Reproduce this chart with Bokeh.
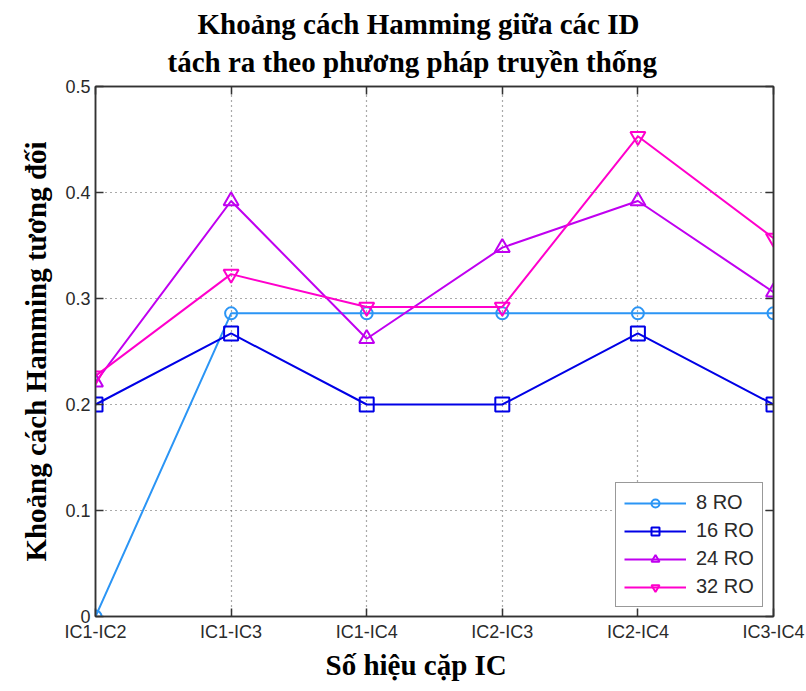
from bokeh.plotting import figure
from bokeh.models import Range1d, FixedTicker, LinearAxis, Title, Legend, LegendItem
from bokeh.embed import file_html
from bokeh.resources import INLINE

# ---- data ----
pairs = ["IC1-IC2", "IC1-IC3", "IC1-IC4", "IC2-IC3", "IC2-IC4", "IC3-IC4"]
ro8 = [0.0, 0.286, 0.286, 0.286, 0.286, 0.286]
ro16 = [0.200, 0.267, 0.200, 0.200, 0.267, 0.200]
ro24 = [0.221, 0.392, 0.262, 0.348, 0.392, 0.306]
ro32 = [0.227, 0.323, 0.292, 0.292, 0.453, 0.357]
series_names = ["8 RO", "16 RO", "24 RO", "32 RO"]
y_ticks = [0, 0.1, 0.2, 0.3, 0.4, 0.5]
y_tick_labels = ["0", "0.1", "0.2", "0.3", "0.4", "0.5"]

title1 = "Khoảng cách Hamming giữa các ID"
title2 = "tách ra theo phương pháp truyền thống"
x_label = "Số hiệu cặp IC"
y_label = "Khoảng cách Hamming tương đối"

xs = list(range(len(pairs)))

AX = "#333333"
SERIF = "Liberation Serif"
SANS = "Liberation Sans"

p = figure(width=806, height=691, output_backend="svg", toolbar_location=None,
           x_range=Range1d(xs[0], xs[-1]), y_range=Range1d(y_ticks[0], y_ticks[-1]),
           min_border_left=95, min_border_right=33, min_border_top=86, min_border_bottom=75,
           background_fill_color="white", border_fill_color="white")
p.title.visible = False

# axes
p.xaxis.ticker = FixedTicker(ticks=xs)
p.xaxis.major_label_overrides = {i: lab for i, lab in zip(xs, pairs)}
p.yaxis.ticker = FixedTicker(ticks=y_ticks)
p.yaxis.major_label_overrides = {t: lab for t, lab in zip(y_ticks, y_tick_labels)}

for ax in (p.xaxis[0], p.yaxis[0]):
    ax.axis_line_color = AX
    ax.axis_line_width = 1.5
    ax.major_tick_line_color = AX
    ax.major_tick_line_width = 1.5
    ax.major_tick_in = 8
    ax.major_tick_out = 0
    ax.minor_tick_line_color = None
    ax.major_label_text_font = SANS
    ax.major_label_text_font_size = "18px"
    ax.major_label_text_color = "#2a2a2a"
    ax.major_label_standoff = 5
    ax.axis_label_text_font = SERIF
    ax.axis_label_text_font_size = "29px"
    ax.axis_label_text_font_style = "bold"
    ax.axis_label_text_color = "black"

p.yaxis.axis_label = y_label
p.yaxis.axis_label_standoff = 10

# mirrored ticks on top and right (labels not drawn)
for side, ticks in (("above", xs), ("right", y_ticks)):
    a = LinearAxis(ticker=FixedTicker(ticks=ticks), major_label_text_color=None,
                   major_label_text_font_size="12px",
                   major_tick_in=8, major_tick_out=0, axis_line_color=AX, axis_line_width=1.5,
                   major_tick_line_color=AX, major_tick_line_width=1.5,
                   minor_tick_line_color=None, major_label_standoff=0)
    p.add_layout(a, side)

# grid
p.grid.grid_line_color = "#555555"
p.grid.grid_line_dash = "1 4"
p.grid.grid_line_width = 1.2
p.xgrid.ticker = FixedTicker(ticks=xs)
p.ygrid.ticker = FixedTicker(ticks=y_ticks)
p.outline_line_color = AX
p.outline_line_width = 1.5

# titles (second line added first: closer to the frame) and x-axis label
tcommon = dict(align="left", text_font=SERIF, text_font_size="29px",
               text_font_style="bold", text_color="black")
p.add_layout(Title(text=title2, offset=72, standoff=13, vertical_align="top", **tcommon), "above")
p.add_layout(Title(text=title1, offset=102, standoff=0, **tcommon), "above")
p.add_layout(Title(text=x_label, offset=230, standoff=4, **tcommon), "below")

# series
colors = ["#2b95f5", "#0000e6", "#c000f0", "#ff00cc"]
markers = ["circle", "square", "triangle", "inverted_triangle"]
sizes = [12, 14, 15, 15]
data = [ro8, ro16, ro24, ro32]
items = []
for name, ys, c, m, s in zip(series_names, data, colors, markers, sizes):
    ln = p.line(xs, ys, line_color=c, line_width=2)
    sc = p.scatter(xs, ys, marker=m, size=s, line_color=c, line_width=2, fill_color=None)
    items.append(LegendItem(label=name, renderers=[ln, sc]))

legend = Legend(items=items, location=(520, 9), border_line_color=AX, border_line_width=1.5,
                background_fill_color="white", background_fill_alpha=1.0,
                label_text_font=SANS, label_text_font_size="20px", label_text_color="#2a2a2a",
                glyph_width=62, glyph_height=20, label_height=20, spacing=5, padding=8,
                margin=0, label_standoff=10)
p.add_layout(legend)

open("out.html", "w").write(file_html(p, INLINE))
